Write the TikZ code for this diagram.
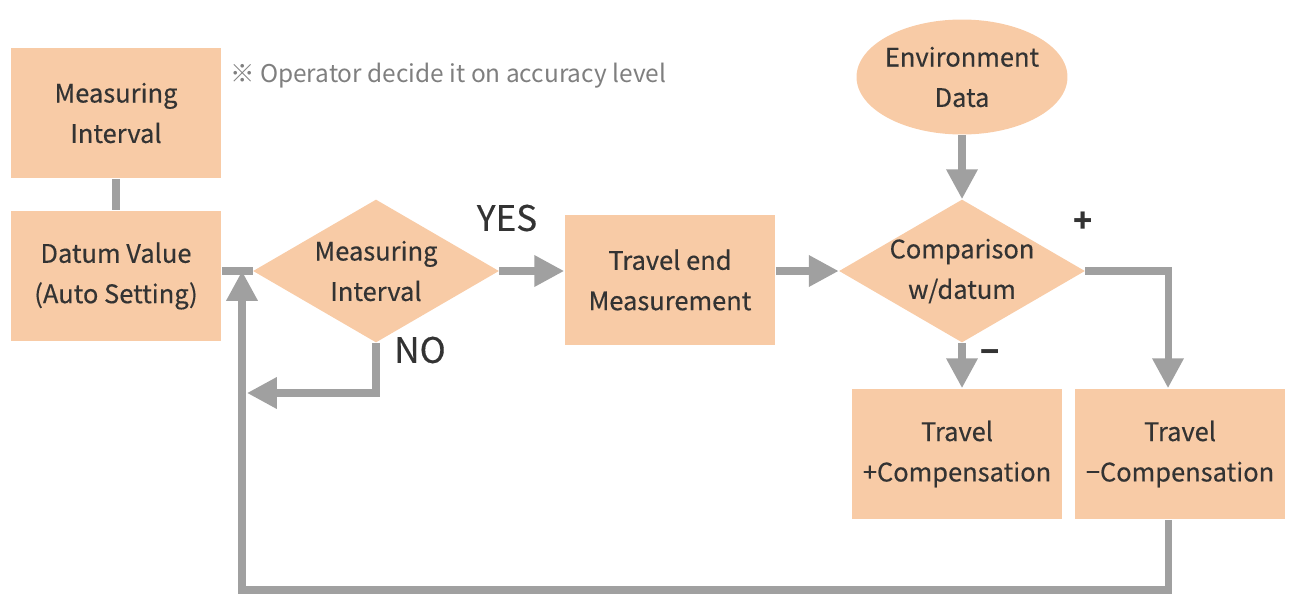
\documentclass[tikz,border=0pt]{standalone}
\usepackage{fontspec}
\setmainfont{Noto Sans CJK KR}
\newfontfamily\boxfont{Noto Sans CJK KR}[FakeBold=0.35]
\definecolor{fcText}{HTML}{333333}
\definecolor{fcNote}{HTML}{7F7F7F}
\definecolor{fcBox}{HTML}{F8CBA6}
\definecolor{fcWire}{HTML}{A0A0A0}
\usetikzlibrary{positioning,arrows.meta,shapes.geometric}

\tikzset{
  card/.style={fill=fcBox, text=fcText, align=center, minimum width=4.22cm, minimum height=2.62cm,
    font=\boxfont\fontsize{14.5}{23}\selectfont},
  decision/.style={diamond, aspect=1.7, fill=fcBox, text=fcText, align=center, inner sep=-6pt,
    minimum width=4.92cm, minimum height=2.86cm, font=\boxfont\fontsize{14.5}{23}\selectfont},
  wire/.style={draw=fcWire, line width=4pt},
  tip/.style={wire, -{Triangle[length=17pt, width=17pt]}},
  flag/.style={text=fcText, font=\boxfont\fontsize{20}{22}\selectfont}
}

\begin{document}
\begin{tikzpicture}[x=0.02cm, y=-0.02cm]
  \useasboundingbox (0,0) rectangle (1291,595);

  % Left column
  \node[card] (meas) at (116,113) {Measuring\\Interval};
  \node[card] (datum) at (116,276) {Datum Value\\(Auto Setting)};
  \node[anchor=west, text=fcNote, font=\fontsize{13.9}{16}\selectfont] (note) at (224,76)
    {※ Operator decide it on accuracy level};

  % Main row
  \node[decision] (mi) at (376,271) {Measuring\\Interval};
  \node[card] (travel) at (670,280) {Travel end\\Measurement};
  \node[decision] (cmp) at (962,271) {Comparison\\w/datum};
  \node[ellipse, fill=fcBox, text=fcText, align=center, inner sep=-2pt, minimum width=4.22cm,
    minimum height=2.3cm, font=\boxfont\fontsize{14.5}{23}\selectfont] (env) at (962,77) {Environment\\Data};

  % Compensation cards
  \node[card] (pcomp) at (957,454) {Travel\\+Compensation};
  \node[card] (mcomp) at (1180,454) {Travel\\−Compensation};

  % -- labels --
  \node[flag] (yes) at (507,218) {YES};
  \node[flag] (no) at (420,350) {NO};
  \node[flag, font=\fontsize{18}{20}\selectfont\bfseries] (plus) at (1083,222) {+};
  \node[flag, font=\fontsize{18}{20}\selectfont\bfseries] (minus) at (990,357) {−};

  % -- connectors --
  \coordinate (noEnd) at (247,393);
  \coordinate (rbr) at (1168,271);
  \coordinate (loopR) at (1168,590);
  \coordinate (loopL) at (242,590);

  \draw[wire] (meas.south) -- (datum.north);
  \draw[wire] (datum.east |- mi.west) -- (mi.west);
  \draw[tip] (mi.east) -- (mi.east -| travel.west);
  \draw[tip] (mi.south) -- (mi.south |- noEnd) -- (noEnd);
  \draw[tip] (travel.east |- cmp.west) -- (cmp.west);
  \draw[tip] (env.south) -- (cmp.north);
  \draw[tip] (cmp.south) -- (cmp.south |- pcomp.north);
  \draw[tip] (cmp.east) -- (rbr) -- (rbr |- mcomp.north);
  \draw[tip] (mcomp.south -| loopR) -- (loopR) -- (loopL) -- (loopL |- mi.west);
\end{tikzpicture}
\end{document}
